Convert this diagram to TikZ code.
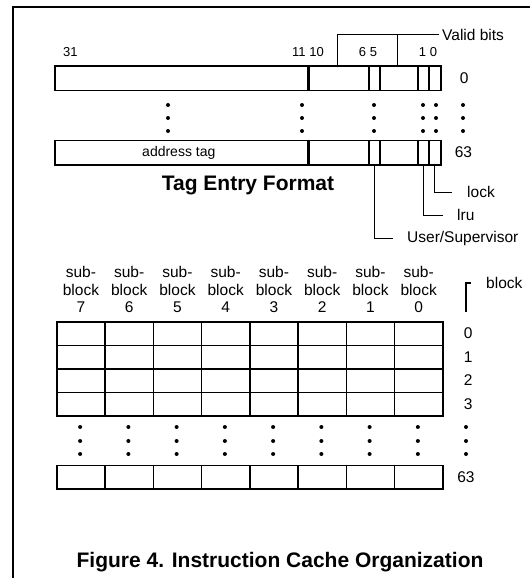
\documentclass[tikz,border=0pt]{standalone}
\usepackage{fontspec}
\setsansfont{Liberation Sans}
\usetikzlibrary{positioning}
\tikzset{
  field/.style={draw=black, line width=1.6pt, anchor=north west, inner sep=0pt, minimum height=24.5pt},
  cell/.style={draw=black, line width=1.6pt, anchor=north west, inner sep=0pt, minimum width=48.25pt, minimum height=23.5pt},
  bitnum/.style={font=\sffamily\fontsize{13}{15}\selectfont, inner sep=0pt},
  lbl/.style={font=\sffamily\fontsize{15.5}{17.5}\selectfont, inner sep=0pt},
  hdr/.style={font=\sffamily\fontsize{15.5}{17.5}\selectfont, inner sep=0pt, align=center},
  title/.style={font=\sffamily\bfseries\fontsize{21}{24}\selectfont, inner sep=0pt},
  leader/.style={line width=1pt},
  frame/.style={line width=1.6pt}
}

\begin{document}
\begin{tikzpicture}[x=1pt, y=-1pt]
\fill[white] (0,0) rectangle (530,578);
\useasboundingbox (0,0) rectangle (530,578);
\draw[frame] (530,7) -- (13,7) -- (13,578);

% tag entries 0 and 63
\foreach \r/\ty in {0/65, 63/139.5} {
  \foreach \n/\xa/\xb in {tag/54/308, hi/308/368, us/368/379, mid/379/417, lru/417/428, lock/428/440}
    \node[field, minimum width={(\xb-\xa)*1pt}] (\n\r) at (\xa,\ty) {};
  \draw[line width=2.4pt] (hi\r.north west) -- (hi\r.south west);
}
\node[lbl, right=18pt of lock0] (row0) {0};
\node[lbl, right=13pt of lock63] (row63) {63};
\node[font=\sffamily\fontsize{14}{16}\selectfont, inner sep=0pt] (addr) at ([xshift=-3pt]tag63.center) {address tag};

% bit numbers
\node[bitnum, above right=8pt and 9pt of tag0.north west] (b31) {31};
\node[bitnum, above=8pt of hi0.north west] (b11) {11 10};
\node[bitnum, above=8pt of us0.north west] (b6) {6 5};
\node[bitnum, above=8pt of lock0.north west] (b1) {1 0};

% valid bits
\node[lbl, anchor=west] (valid) at (442,35) {Valid bits};
\coordinate (vl) at (337,65);
\coordinate (vr) at (397,65);
\draw[leader] (vl) |- ([xshift=-3pt]valid.west);
\draw[leader] (vr) -- (vr |- valid.west);

% dots between entries
\foreach \x in {168, 302, 374, 423, 436, 463}
  \foreach \y in {105, 118, 131}
    \fill (\x,\y) circle (2pt);

\node[title, anchor=base] (tagtitle) at (248,190) {Tag Entry Format};

% field names
\node[lbl, anchor=west] (lock) at (467,192) {lock};
\node[lbl, anchor=west] (lru) at (457,215) {lru};
\node[lbl, anchor=west] (usr) at (407,238) {User/Supervisor};
\draw[leader] (lock63.south) |- ([xshift=-15pt]lock.west);
\draw[leader] (lru63.south) |- ([xshift=-14pt]lru.west);
\draw[leader] (us63.south) |- ([xshift=-14pt]usr.west);

% cache blocks
\foreach \c in {0,...,7} {
  \pgfmathsetmacro\cx{56+48.25*(7-\c)}
  \foreach \rr in {0,...,3}
    \node[cell] (sb\c-\rr) at (\cx, 321+23.5*\rr) {};
  \node[cell] (sb\c-63) at (\cx, 464.5) {};
  \node[hdr, above=8pt of sb\c-0.north] (hd\c) {sub-\\block\\\c};
  \foreach \y in {427, 441, 454}
    \fill (\cx+24.125, \y) circle (2pt);
}
\foreach \rr in {0,...,3}
  \node[lbl, right=20pt of sb0-\rr] (blkrow\rr) {\rr};
\node[lbl, right=13.5pt of sb0-63] (blkrow63) {63};
\foreach \y in {427, 441, 454}
  \fill (466, \y) circle (2pt);

\node[lbl, anchor=west] (blk) at (486,283) {block};
\coordinate (bk) at (466,312);
\draw[line width=1.6pt] (bk) |- ([xshift=-15pt]blk.west);

\node[title, anchor=base] (cap) at (280,567.5) {Figure 4. Instruction Cache Organization};
\end{tikzpicture}
\end{document}
